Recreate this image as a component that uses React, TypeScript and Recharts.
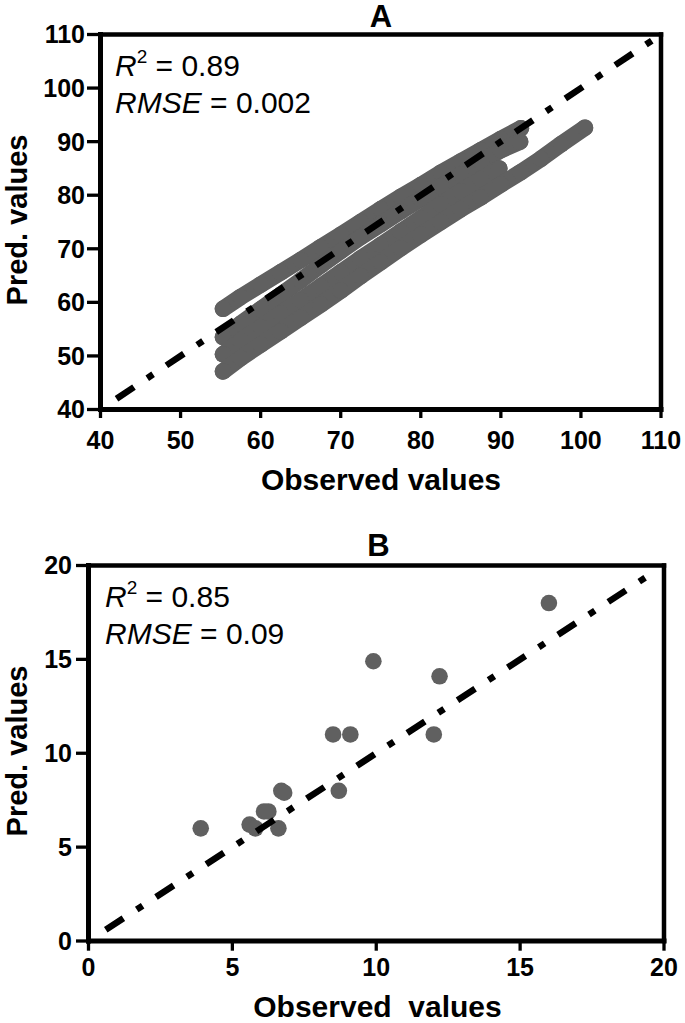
import React from 'react';
import { ScatterChart, Scatter, XAxis, YAxis, ReferenceLine } from 'recharts';

const GRAY = '#606060';
const FONT = '"Liberation Sans", Arial, Helvetica, sans-serif';

// Panel A: the point cloud is made of a few dense tracks, read along each one
const trackUpper: [number, number][] = [
  [55.3, 58.8], [57.5, 61.0], [60, 63.3], [62.5, 65.6], [65, 67.9], [67.5, 70.3],
  [70, 72.6], [72.5, 75.0], [75, 77.4], [77.5, 79.7], [80, 81.9], [82.5, 84.2],
  [85, 86.3], [87.5, 88.4], [90, 90.5], [92.5, 92.5],
];
const trackMiddle: [number, number][] = [
  [55.3, 53.5], [57.5, 56.0], [60, 58.7], [62.5, 61.4], [65, 64.1], [67.5, 66.9],
  [70, 69.6], [72.5, 72.2], [75, 74.6], [77.5, 77.0], [80, 79.3], [82.5, 81.6],
  [85, 83.9], [87.5, 86.2], [90, 88.4], [92.4, 90.0],
];
const trackLowerMid: [number, number][] = [
  [55.3, 50.3], [57.5, 52.8], [60, 55.4], [62.5, 57.9], [65, 60.4], [67.5, 63.0],
  [70, 65.6], [72.5, 68.2], [75, 70.7], [77.5, 73.2], [80, 75.7], [82.5, 78.3],
  [85, 80.7], [87.5, 83.0], [89.8, 85.0],
];
const trackLower: [number, number][] = [
  [55.3, 47.1], [57.5, 49.6], [60, 52.1], [62.5, 54.6], [65, 57.1], [67.5, 59.6],
  [70, 62.2], [72.5, 64.9], [75, 67.5], [77.5, 70.1], [80, 72.6], [82.5, 75.0],
  [85, 77.4], [87.5, 79.6], [90, 82.0], [92.5, 84.3], [95, 86.8], [97.5, 89.5],
  [100.5, 92.6],
];

// Panel B: observed vs predicted
const observedB = [3.9, 5.6, 5.8, 6.1, 6.25, 6.6, 6.7, 6.8, 8.5, 8.7, 9.1, 9.9, 12.0, 12.2, 16.0];
const predictedB = [6.0, 6.2, 6.0, 6.9, 6.9, 6.0, 8.0, 7.9, 11.0, 8.0, 11.0, 14.9, 11.0, 14.1, 18.0];

const ticksA = [40, 50, 60, 70, 80, 90, 100, 110];
const ticksB = [0, 5, 10, 15, 20];
const identityA = [42, 109.2];
const identityB = [0.6, 19.7];

const toPoints = (arr: [number, number][]) => arr.map(([x, y]) => ({ x, y }));

const Dot = (props: any) => <circle cx={props.cx} cy={props.cy} r={8.3} fill={GRAY} />;
const NoDot = () => <g />;

const tickStyle = { fill: '#000', fontSize: 25, fontWeight: 'bold', fontFamily: FONT };

const trackLine = { stroke: GRAY, strokeWidth: 16.6, strokeLinecap: 'round', strokeLinejoin: 'round' };
const identityLine = { stroke: '#000', strokeWidth: 6.5, strokeDasharray: '21 16 7 16' };

// frame of the plot: thick left/bottom axes, slightly thinner top/right
const Frame = ({ lo, hi }: { lo: number; hi: number }) => [
  <ReferenceLine key="l" x={lo} stroke="#000" strokeWidth={5} strokeLinecap="square" />,
  <ReferenceLine key="b" y={lo} stroke="#000" strokeWidth={5} strokeLinecap="square" />,
  <ReferenceLine key="t" y={hi} stroke="#000" strokeWidth={4.5} strokeLinecap="square" />,
  <ReferenceLine key="r" x={hi} stroke="#000" strokeWidth={4.5} strokeLinecap="square" />,
];

export default function App() {
  const tracksA = [trackUpper, trackMiddle, trackLowerMid, trackLower].map(toPoints);
  const pointsB = observedB.map((x, i) => ({ x, y: predictedB[i] }));
  const diagA = identityA.map((v) => ({ x: v, y: v }));
  const diagB = identityB.map((v) => ({ x: v, y: v }));

  return (
    <div style={{ position: 'absolute', left: 0, top: 0, width: 685, height: 1023, background: '#fff' }}>
      <div style={{ position: 'absolute', left: 0, top: 0 }}>
        <ScatterChart width={685} height={500} margin={{ top: 34.5, right: 24, bottom: 0, left: 0 }}>
          <XAxis
            type="number" dataKey="x" domain={[40, 110]} ticks={ticksA} interval={0}
            height={90.5} stroke="#000" strokeWidth={3.3} tickSize={8.5} tickMargin={13}
            tick={tickStyle} allowDataOverflow
          />
          <YAxis
            type="number" dataKey="y" domain={[40, 110]} ticks={ticksA} interval={0}
            width={100.5} stroke="#000" strokeWidth={3.3} tickSize={13.5} tickMargin={2}
            tick={tickStyle} allowDataOverflow
          />
          {Frame({ lo: 40, hi: 110 })}
          {tracksA.map((d, i) => (
            <Scatter key={i} data={d} shape={Dot} line={trackLine} fill={GRAY} isAnimationActive={false} />
          ))}
          <Scatter data={diagA} shape={NoDot} line={identityLine} fill="#000" isAnimationActive={false} />
        </ScatterChart>
      </div>

      <div style={{ position: 'absolute', left: 0, top: 520 }}>
        <ScatterChart width={685} height={503} margin={{ top: 45.5, right: 21, bottom: 0, left: 0 }}>
          <XAxis
            type="number" dataKey="x" domain={[0, 20]} ticks={ticksB} interval={0}
            height={82} stroke="#000" strokeWidth={3.3} tickSize={9.7} tickMargin={8}
            tick={tickStyle} allowDataOverflow
          />
          <YAxis
            type="number" dataKey="y" domain={[0, 20]} ticks={ticksB} interval={0}
            width={88.5} stroke="#000" strokeWidth={3.3} tickSize={12.5} tickMargin={4}
            tick={tickStyle} allowDataOverflow
          />
          {Frame({ lo: 0, hi: 20 })}
          <Scatter data={pointsB} shape={Dot} fill={GRAY} isAnimationActive={false} />
          <Scatter data={diagB} shape={NoDot} line={identityLine} fill="#000" isAnimationActive={false} />
        </ScatterChart>
      </div>

      <svg
        width={685} height={1023}
        style={{ position: 'absolute', left: 0, top: 0, pointerEvents: 'none' }}
        fontFamily={FONT}
      >
        <text x={381} y={27} fontSize={31} fontWeight="bold" textAnchor="middle">A</text>
        <text x={115} y={76} fontSize={30}>
          <tspan fontStyle="italic">R</tspan>
          <tspan fontSize={19} dy={-13}>2</tspan>
          <tspan dy={13}> = 0.89</tspan>
        </text>
        <text x={115} y={113} fontSize={30}>
          <tspan fontStyle="italic">RMSE</tspan> = 0.002
        </text>
        <text x={381} y={490} fontSize={30} fontWeight="bold" textAnchor="middle">Observed values</text>
        <text x={27} y={220} fontSize={29} fontWeight="bold" textAnchor="middle" transform="rotate(-90 27 220)">
          Pred. values
        </text>

        <text x={378.5} y={556} fontSize={31} fontWeight="bold" textAnchor="middle">B</text>
        <text x={105} y={607} fontSize={30}>
          <tspan fontStyle="italic">R</tspan>
          <tspan fontSize={19} dy={-13}>2</tspan>
          <tspan dy={13}> = 0.85</tspan>
        </text>
        <text x={105} y={644} fontSize={30}>
          <tspan fontStyle="italic">RMSE</tspan> = 0.09
        </text>
        <text x={377.5} y={1017} fontSize={30} fontWeight="bold" textAnchor="middle" style={{ whiteSpace: 'pre' }}>
          {'Observed  values'}
        </text>
        <text x={27} y={751} fontSize={29} fontWeight="bold" textAnchor="middle" transform="rotate(-90 27 751)">
          Pred. values
        </text>
      </svg>
    </div>
  );
}
